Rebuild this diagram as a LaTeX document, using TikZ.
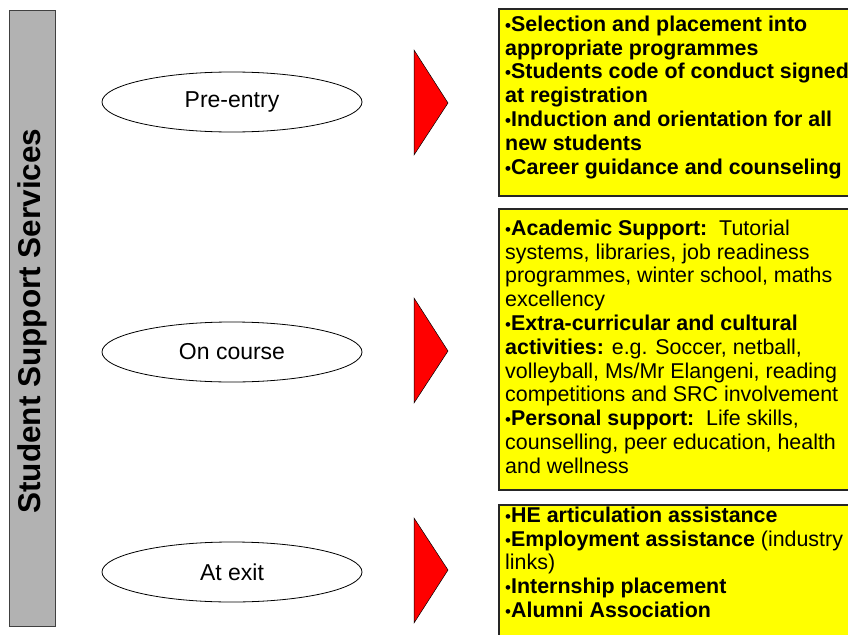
\documentclass[tikz,border=0pt]{standalone}
\usepackage{fontspec}
\setmainfont{Liberation Sans}
\usetikzlibrary{shapes.geometric}
\definecolor{bargray}{RGB}{178,178,178}
\definecolor{boxyellow}{RGB}{255,255,0}
\newcommand\bul{{\fontsize{17}{17}\selectfont•}}
\begin{document}
\begin{tikzpicture}[x=1pt,y=-1pt,
  phase/.style={ellipse, draw, line width=0.8pt, minimum width=260pt, minimum height=60pt, inner sep=0pt, font=\fontsize{23}{23}\selectfont},
  listbox/.style={draw=black!85, fill=boxyellow, line width=1.2pt},
  listtext/.style={anchor=north west, inner sep=0pt, align=left, font=\fontsize{21.4}{23.8}\selectfont},
  pointer/.style={fill=red, draw=black, line width=0.5pt}]
\useasboundingbox (0,0) rectangle (848,634);
\clip (0,0) rectangle (848,634);
\node[draw=black!75, fill=bargray, line width=1pt, minimum width=46pt, minimum height=616pt, inner sep=0pt, anchor=north west] (bar) at (9,10) {};
\node[rotate=90, font=\bfseries\fontsize{31.5}{31.5}\selectfont] (bartitle) at (32,321) {Student Support Services};
\node[phase] (pre) at (232,102) {Pre-entry};
\node[phase] (oncourse) at (232,352) {On course};
\node[phase] (atexit) at (232,572) {At exit};
\draw[pointer] (414,50) -- (448,103) -- (414,155) -- cycle;
\draw[pointer] (414,298) -- (448,351) -- (414,403) -- cycle;
\draw[pointer] (414,518) -- (448,570) -- (414,623) -- cycle;
\draw[listbox] (499,9) rectangle (880,196);
\draw[listbox] (499,209) rectangle (880,490);
\draw[listbox] (499,505) rectangle (880,660);
\node[listtext] (list1) at (505,15.6) {\bfseries\bul Selection and placement into\\\bfseries appropriate programmes\\\bfseries\bul Students code of conduct signed\\\bfseries at registration\\\bfseries\bul Induction and orientation for all\\\bfseries new students\\\bfseries\bul Career guidance and counseling};
\node[listtext] (list2) at (505,219.6) {\bul\textbf{Academic Support:}\ \ Tutorial\\systems, libraries, job readiness\\programmes, winter school, maths\\excellency\\\bul\textbf{Extra-curricular and cultural}\\\textbf{activities:} e.g. Soccer, netball,\\volleyball, Ms/Mr Elangeni, reading\\competitions and SRC involvement\\\bul\textbf{Personal support:}\ \ Life skills,\\counselling, peer education, health\\and wellness};
\node[listtext] (list3) at (505,506.6) {\bul\textbf{HE articulation assistance}\\\bul\textbf{Employment assistance} (industry\\links)\\\bul\textbf{Internship placement}\\\bul\textbf{Alumni Association}};
\end{tikzpicture}
\end{document}
